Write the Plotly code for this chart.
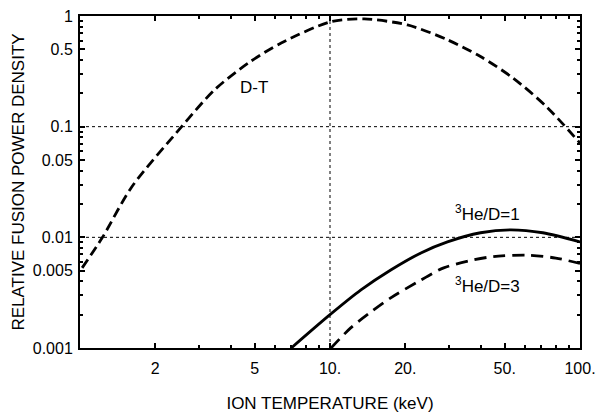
import math
import plotly.graph_objects as go

# ---- data ----
dt_T = [1.02, 1.23, 1.61, 2.55, 3.45, 4.71, 6.38, 10.1, 13.7, 20.4, 29.5, 40, 54, 73.8, 100]
dt_P = [0.0053, 0.01, 0.0285, 0.1, 0.215, 0.376, 0.57, 0.89, 0.94, 0.83, 0.61, 0.43, 0.275, 0.15, 0.071]

he1_T = [7.0, 10.0, 13.3, 17.5, 23.1, 29.5, 40, 52.7, 71, 100]
he1_P = [0.001, 0.0020, 0.00335, 0.00507, 0.00723, 0.0091, 0.011, 0.0117, 0.011, 0.0091]

he3_T = [10.1, 12.1, 14.6, 17.5, 22.4, 28.5, 37.5, 45, 61.5, 80, 100]
he3_P = [0.001, 0.00152, 0.00212, 0.00284, 0.00395, 0.0053, 0.00625, 0.0067, 0.0069, 0.0065, 0.0058]

x_tickvals = [2, 5, 10, 20, 50, 100]
x_ticktext = ["2", "5", "10.", "20.", "50.", "100."]
y_tickvals = [0.001, 0.005, 0.01, 0.05, 0.1, 0.5, 1]
y_ticktext = ["0.001", "0.005", "0.01", "0.05", "0.1", "0.5", "1"]

grid_y = [0.1, 0.01]
grid_x = [10]

FONT = "Liberation Sans, Arial, sans-serif"

fig = go.Figure()

# dotted reference grid lines
for gy in grid_y:
    fig.add_trace(go.Scatter(x=[1, 100], y=[gy, gy], mode="lines",
                             line=dict(color="black", width=1, dash="dot"),
                             hoverinfo="skip", showlegend=False))
for gx in grid_x:
    fig.add_trace(go.Scatter(x=[gx, gx], y=[0.001, 1], mode="lines",
                             line=dict(color="black", width=1, dash="dot"),
                             hoverinfo="skip", showlegend=False))

fig.add_trace(go.Scatter(x=dt_T, y=dt_P, mode="lines", name="D-T",
                         line=dict(color="black", width=2.8, dash="10px,5px",
                                   shape="spline", smoothing=0.8),
                         showlegend=False))
fig.add_trace(go.Scatter(x=he1_T, y=he1_P, mode="lines", name="3He/D=1",
                         line=dict(color="black", width=2.8, shape="spline", smoothing=0.8),
                         showlegend=False))
fig.add_trace(go.Scatter(x=he3_T, y=he3_P, mode="lines", name="3He/D=3",
                         line=dict(color="black", width=2.8, dash="12px,7px",
                                   shape="spline", smoothing=0.8),
                         showlegend=False))

annots = [
    ("D-T", 4.98, 0.224),
    ("<sup>3</sup>He/D=1", 42.6, 0.0166),
    ("<sup>3</sup>He/D=3", 42.6, 0.0037),
]
for txt, ax_, ay_ in annots:
    fig.add_annotation(x=math.log10(ax_), y=math.log10(ay_), text=txt, showarrow=False,
                       font=dict(family=FONT, size=17, color="black"))

fig.update_xaxes(type="log", range=[0, 2], tickvals=x_tickvals, ticktext=x_ticktext,
                 automargin=False,
                 ticks="inside", ticklen=5, tickwidth=1.5, tickcolor="black",
                 ticklabelstandoff=5,
                 showline=True, linecolor="black", linewidth=2, mirror="ticks",
                 showgrid=False, zeroline=False,
                 minor=dict(ticks="inside", ticklen=3, tickcolor="black",
                            tickvals=[3, 4, 6, 7, 8, 9, 30, 40, 60, 70, 80, 90]),
                 tickfont=dict(family=FONT, size=16, color="black"),
                 title=dict(text="ION TEMPERATURE (keV)", standoff=26,
                            font=dict(family=FONT, size=17, color="black")))
fig.update_yaxes(type="log", range=[-3, 0], tickvals=y_tickvals, ticktext=y_ticktext,
                 automargin=False,
                 ticks="inside", ticklen=5, tickwidth=1.5, tickcolor="black",
                 ticklabelstandoff=2,
                 showline=True, linecolor="black", linewidth=2, mirror="ticks",
                 showgrid=False, zeroline=False,
                 minor=dict(ticks="inside", ticklen=3, tickcolor="black",
                            tickvals=[0.002, 0.003, 0.004, 0.006, 0.007, 0.008, 0.009,
                                      0.02, 0.03, 0.04, 0.06, 0.07, 0.08, 0.09,
                                      0.2, 0.3, 0.4, 0.6, 0.7, 0.8, 0.9]),
                 tickfont=dict(family=FONT, size=16, color="black"),
                 title=dict(text="RELATIVE FUSION POWER DENSITY", standoff=4,
                            font=dict(family=FONT, size=17, color="black")))

fig.update_layout(width=598, height=413, margin=dict(l=80, r=18, t=16, b=65),
                  paper_bgcolor="white", plot_bgcolor="white", showlegend=False)

fig.write_html("out.html")
